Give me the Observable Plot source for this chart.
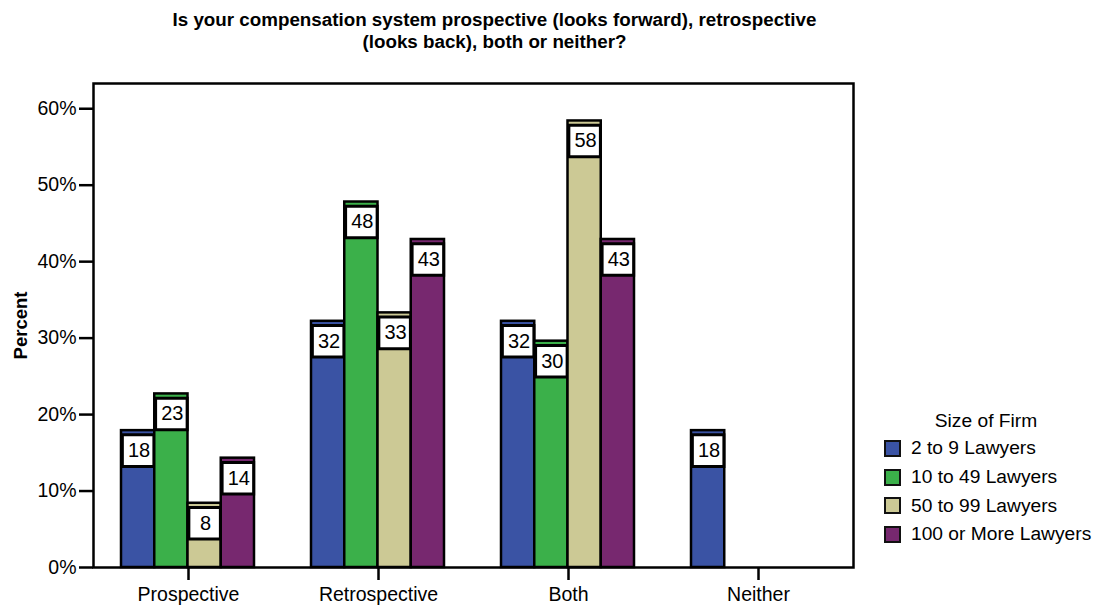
<!DOCTYPE html>
<html>
<head>
<meta charset="utf-8">
<script src="https://cdn.jsdelivr.net/npm/d3@7"></script>
<script src="https://cdn.jsdelivr.net/npm/@observablehq/plot@0.6"></script>
<style>
  body { margin: 0; background: #fff; }
  #wrap { position: relative; width: 1098px; height: 605px; font-family: "Liberation Sans", Arial, sans-serif; }
  #title { position: absolute; left: 0; top: 9px; width: 989px; text-align: center; font-family: "Liberation Sans", Arial, sans-serif; font-weight: bold; font-size: 18.8px; line-height: 22px; color: #000; }
  #chart { position: absolute; left: 0; top: 60px; }
  #legend { position: absolute; left: 884px; top: 410px; font-size: 19.2px; color: #000; }
  #legend .head { width: 204px; text-align: center; margin-bottom: 2px; }
  #legend .item { display: flex; align-items: center; height: 28.7px; }
  #legend .sw { width: 13px; height: 13px; border: 2px solid #111; margin-right: 10px; }
</style>
</head>
<body>
<div id="wrap">
  <div id="title">Is your compensation system prospective (looks forward), retrospective<br>(looks back), both or neither?</div>
  <div id="chart"></div>
  <div id="legend"></div>
</div>
<script>
const categories = ["Prospective", "Retrospective", "Both", "Neither"];
const firmSizes = ["2 to 9 Lawyers", "10 to 49 Lawyers", "50 to 99 Lawyers", "100 or More Lawyers"];
const colors = ["#3a53a4", "#3bb04a", "#ccc995", "#77286f"];
const small = [17.9, 32.2, 32.2, 17.9];
const medium = [22.7, 47.8, 29.6, null];
const large = [8.4, 33.3, 58.4, null];
const xlarge = [14.3, 42.9, 42.9, null];
const yTicks = [0, 10, 20, 30, 40, 50, 60];
const yLabel = "Percent";
const legendTitle = "Size of Firm";

const seriesValues = [small, medium, large, xlarge];
const band = 190, groupStart = 28, barW = 33.25;

const marks = [];
seriesValues.forEach((vals, i) => {
  const rows = categories.map((c, j) => ({category: c, value: vals[j]})).filter(d => d.value != null);
  const insetLeft = groupStart + barW * i;
  const insetRight = band - groupStart - barW * (i + 1);
  const dx = groupStart + barW * (i + 0.5) - band / 2;
  marks.push(Plot.barY(rows, {x: "category", y: "value", fill: colors[i], stroke: "#000", strokeWidth: 2.5, insetLeft, insetRight}));
  marks.push(Plot.dot(rows, {x: "category", y: "value", symbol: "square", r: 17.8, fill: "#fff", stroke: "#000", strokeWidth: 3, dx, dy: 20}));
  marks.push(Plot.text(rows, {x: "category", y: "value", text: d => String(Math.round(d.value)), dx: dx + 1, dy: 20, fontSize: 20, fill: "#000"}));
});

const chart = Plot.plot({
  width: 1098,
  height: 545,
  marginTop: 23,
  marginBottom: 38,
  marginLeft: 93,
  marginRight: 245,
  style: {fontFamily: "'Liberation Sans', Arial, sans-serif", fontSize: "19px", color: "#000", background: "#fff"},
  x: {domain: categories, padding: 0, label: null},
  y: {domain: [0, 63.3], label: null},
  marks: [
    Plot.axisY({ticks: yTicks, tickFormat: d => d + "%", tickSize: 14, tickPadding: 3, strokeWidth: 2.5, fontSize: 19.5}),
    Plot.axisX({tickSize: 13, tickPadding: 7, strokeWidth: 2.5, fontSize: 19.5}),
    ...marks,
    Plot.frame({stroke: "#000", strokeWidth: 2.5}),
    Plot.text([yLabel], {frameAnchor: "left", textAnchor: "middle", rotate: -90, dx: -72, fontWeight: "bold", fontSize: 18.5, fill: "#000"})
  ]
});
document.getElementById("chart").appendChild(chart);

const legend = document.getElementById("legend");
const head = document.createElement("div");
head.className = "head";
head.textContent = legendTitle;
legend.appendChild(head);
firmSizes.forEach((s, i) => {
  const item = document.createElement("div");
  item.className = "item";
  const sw = document.createElement("div");
  sw.className = "sw";
  sw.style.background = colors[i];
  const t = document.createElement("span");
  t.textContent = s;
  item.appendChild(sw);
  item.appendChild(t);
  legend.appendChild(item);
});
</script>
</body>
</html>
